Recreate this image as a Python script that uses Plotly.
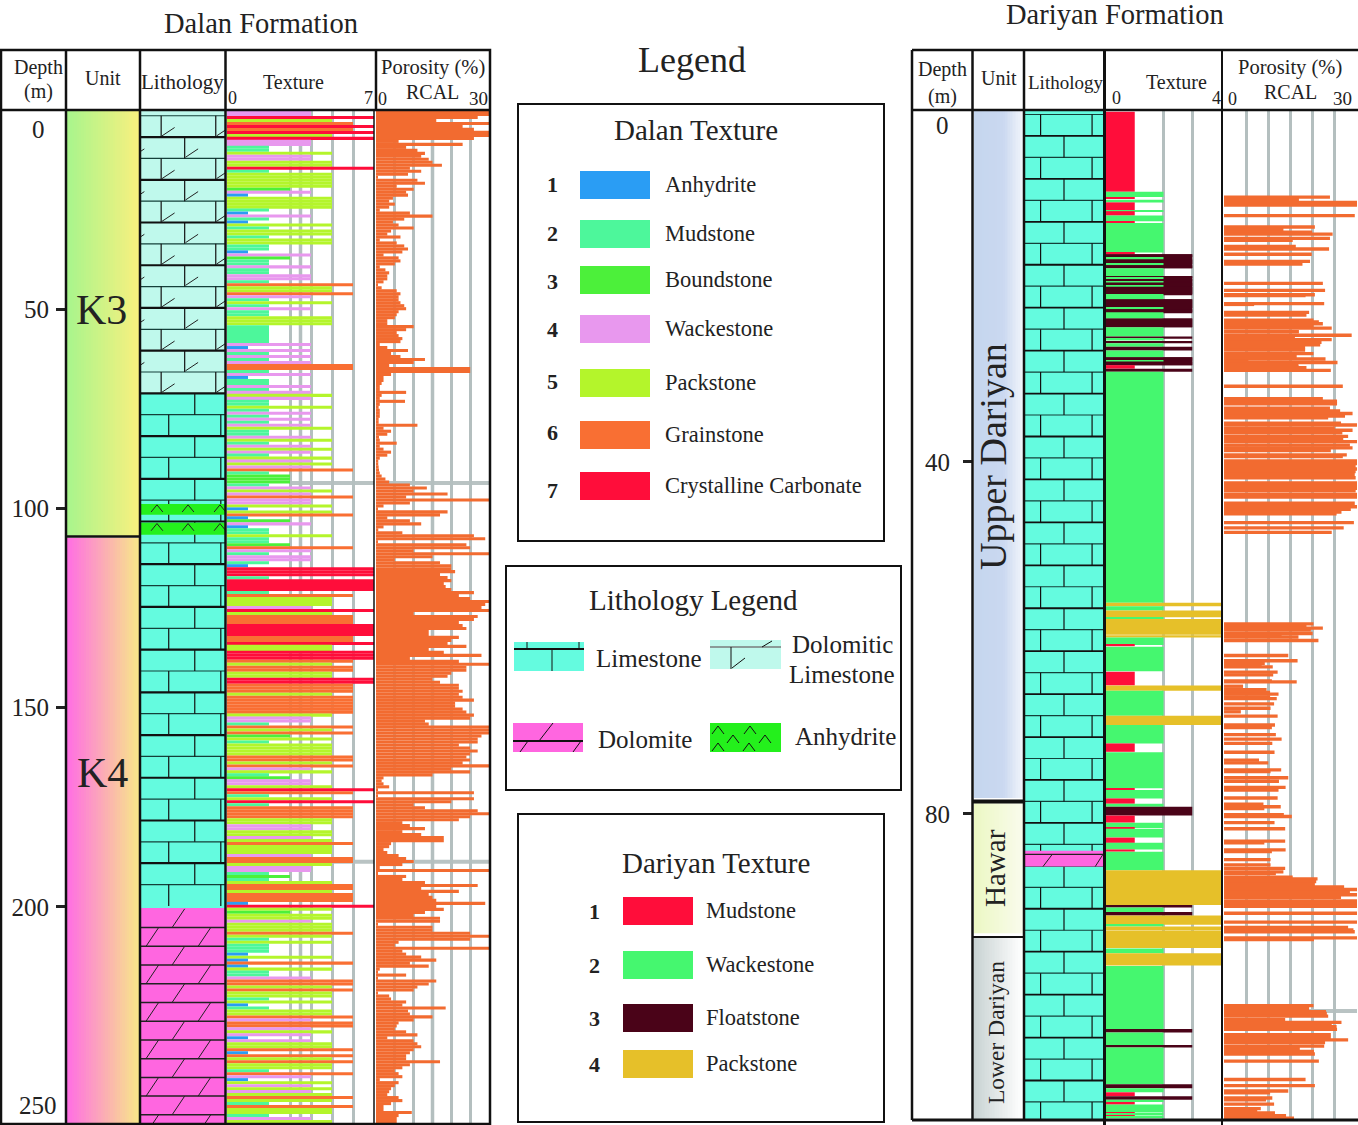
import plotly.graph_objects as go

W = 1358
H = 1125
SERIF = "Liberation Serif"

# Dalan logs, one reading every 0.75 m from the top of the section
dal_step = 0.75
dal_porosity = [
    30, 30, 27, 16, 30, 23, 26, 30, 30, 26, 6, 23, 8, 11, 13, 12, 14, 15, 17.5, 9,
    12, 8.5, 0.3, 11, 13, 5.5, 10, 8, 8.5, 4.5, 3.5, 5, 3.5, 1, 9, 15, 7.5, 4.5, 6, 10,
    4, 3, 6.5, 1, 5.5, 7.5, 8.5, 7, 2, 6, 6.5, 5, 1, 2.5, 3.5, 3, 3, 2, 0.5, 1.5,
    5.5, 6.5, 6, 6, 6.5, 7.5, 8, 6, 5.5, 5, 3, 3, 10, 8, 5.5, 6, 7, 6.5, 1, 3,
    8.5, 4, 6.5, 13, 10, 3.5, 25, 25, 4, 2, 2,
    1.5, 1, 1, 8, 1.5, 1, 7.7, 1, 0.7, 1, 1, 1, 0.7, 0.7, 11, 2, 4, 3, 0.8, 1,
    5.5, 1, 2, 4, 3, 1, 0.6, 0.6, 0.7, 0.8, 1, 1.5, 2.5, 3.5, 9, 13.5, 10, 19, 8, 30,
    9, 2, 0.3, 19, 17, 3, 9, 12, 2, 0.6, 7, 26, 29, 0.3, 24, 25, 10, 30, 15, 5,
    17, 20, 20, 21, 17, 19, 20, 18, 18.5, 20, 26, 22, 25, 30, 29, 28, 30, 10, 27, 26,
    22, 23, 24, 14, 14, 22, 20, 19, 24, 14, 18, 28, 9, 22, 30, 24, 24, 20, 19, 15,
    17, 22, 22, 23, 22, 23, 26, 21, 21, 23, 24, 26, 25, 13, 14, 30, 30, 30, 28, 27,
    27, 22, 25, 27, 25, 24,
    25, 23, 30, 20, 25, 15, 2, 1.5, 2, 3.5, 0.5, 26, 0.5, 26, 20, 10, 13, 27, 30, 25,
    22, 7, 9, 13, 7, 12, 18, 18, 4, 3.5, 2, 3, 6, 8, 10, 7, 1, 30, 0.3, 8,
    7, 13, 27, 12, 22, 14, 15, 16, 29, 16, 18, 13, 10, 17, 17, 0.3, 15, 15, 25, 30,
    25, 6, 5, 30, 7, 8, 12, 16, 9, 14, 1, 0.5, 8, 0.5, 16, 14, 11, 10, 0.3, 3.5,
    4, 8, 7, 18.5, 8.5, 9, 15, 10, 6, 5.5, 5, 8, 11, 3, 10, 11, 12, 10, 9, 8,
    8, 17, 9, 7, 5, 6, 7, 1, 6, 5, 4, 3.5, 3, 6, 7, 4, 2, 2, 9.5, 6,
    5.5, 5.5,
]
dal_texture = [
    4, 4, 7, 5, 6, 7, 6, 7, 5, 7, 4, 4, 2, 2, 5, 4, 4, 5, 5, 7,
    2, 5, 5, 5, 5, 5, 3, 4, 1, 5, 5, 5, 5, 2, 1, 4, 2, 1, 5, 2,
    5, 5, 2, 5, 5, 2, 2, 1, 4, 3, 2, 2, 4, 2, 2, 4, 4, 2, 6, 5,
    5, 6, 4, 2, 5, 2, 4, 2, 2, 5, 5, 5, 2, 2, 2, 2, 2, 2, 4, 1,
    4, 2, 4, 2, 4, 6, 6, 2, 4, 1, 2,
    2, 4, 2, 4, 5, 4, 2, 2, 5, 2, 4, 2, 4, 2, 4, 5, 2, 2, 4, 5,
    2, 4, 5, 4, 2, 5, 4, 5, 4, 6, 2, 3, 3, 3, 2, 4, 5, 4, 6, 4,
    4, 5, 1, 5, 6, 1, 3, 4, 1, 2, 2, 5, 2, 2, 3, 6, 4, 2, 4, 4,
    2, 1, 7, 7, 7, 2, 7, 7, 7, 7, 2, 6, 5, 5, 5, 4, 7, 5, 6, 6,
    6, 7, 7, 7, 7, 6, 6, 7, 5, 5, 7, 7, 7, 6, 5, 6, 6, 5, 5, 7,
    7, 6, 6, 6, 5, 6, 6, 6, 6, 6, 6, 5, 4, 4, 2, 6, 5, 6, 3, 5,
    2, 5, 5, 5, 5, 6,
    6, 5, 6, 4, 5, 2, 3, 4, 4, 5, 7, 6, 2, 5, 7, 2, 6, 6, 6, 6,
    5, 5, 4, 4, 5, 5, 4, 5, 6, 5, 5, 5, 4, 6, 6, 5, 4, 4, 2, 3,
    2, 5, 6, 6, 5, 6, 6, 6, 1, 7, 5, 3, 5, 5, 4, 5, 5, 5, 6, 5,
    2, 5, 2, 2, 2, 1, 5, 1, 6, 1, 5, 2, 2, 4, 6, 6, 5, 6, 5, 5,
    2, 5, 1, 2, 5, 5, 6, 4, 6, 6, 4, 5, 4, 1, 4, 5, 5, 6, 1, 6,
    5, 6, 5, 5, 2, 6, 4, 1, 5, 4, 5, 4, 5, 6, 5, 2, 6, 5, 5, 2,
    4, 5,
]
dal_texture_names = ["Anhydrite", "Mudstone", "Boundstone", "Wackestone",
                     "Packstone", "Grainstone", "Crystalline Carbonate"]
dal_texture_colors = ["#2a9df4", "#4df79b", "#4cf03a", "#e898ee",
                      "#b4f52b", "#f96f33", "#ff0d3a"]

# Dariyan porosity samples (depth m, porosity %)
dar_por_depth = [
    9.9, 10.2, 10.5, 10.8, 12.0, 13.3, 13.6, 13.9, 14.1, 14.6, 14.8, 15.5, 15.8, 16.4, 17.2, 17.5,
    19.7, 20.5, 21.0, 21.1, 22.0, 22.1, 23.0, 23.3, 23.9, 24.1, 24.3, 24.5, 24.8, 25.2, 25.6, 25.8,
    26.1, 26.4, 26.7, 27.0, 27.3, 27.7, 28.0, 28.3, 28.5, 28.7, 28.9, 29.2, 29.3, 29.6,
    31.4, 32.8, 33.1, 33.4, 33.9, 34.2, 34.5, 34.8, 35.0, 35.6, 35.8, 36.2, 36.4, 36.7, 37.1, 37.4,
    37.7, 38.1, 38.4, 38.7, 39.2, 39.4, 39.9, 40.2, 40.5, 40.8, 41.1, 41.4, 41.8, 42.4, 42.7, 43.0,
    43.3, 43.7, 44.0, 44.7, 45.1, 45.4, 45.7, 45.9, 46.9, 47.5, 48.0,
    58.4, 58.6, 58.9, 59.1, 59.5, 59.7, 59.9, 60.3, 62.0, 62.6, 62.9, 63.2, 63.3, 63.9, 64.2, 64.9,
    65.0, 65.5, 65.9, 66.2, 66.4, 66.7, 66.9, 67.5, 68.0, 68.4, 68.9, 69.9, 70.2, 71.0, 71.5, 72.0,
    73.0, 73.9, 74.2, 75.0, 75.2, 75.9, 76.3, 77.0, 77.3, 78.2, 78.9, 79.2, 79.4, 80.1, 80.3, 81.0,
    81.7, 83.1, 83.3, 84.1, 84.3, 85.2, 85.8, 86.2, 86.6, 86.8, 87.2, 87.4, 87.7, 88.0, 88.3, 88.6,
    88.9, 89.2, 89.5, 89.9, 90.2, 90.5, 91.3, 92.3, 92.9, 93.2, 93.4, 94.1, 94.3,
    101.8, 102.1, 102.5, 102.7, 103.0, 103.4, 103.7, 104.0, 104.2, 104.5, 105.1, 105.4, 105.7, 106.0,
    106.4, 106.7, 107.0, 107.3, 108.1, 110.2, 110.9, 111.5, 111.7, 112.3, 112.5, 113.0, 113.5, 113.8,
    114.0, 114.3, 114.6,
]
dar_porosity = [
    23.9, 16.9, 30, 30, 29.5, 20.5, 13.4, 19.9, 24.5, 23.9, 15.5, 16.2, 23.7, 19.8, 19.4, 17.7,
    22.3, 22.8, 20.5, 18.4, 22.6, 6.8, 19.2, 18.6, 20.2, 21.4, 22.3, 20.2, 24.3, 16.9, 28.8, 16,
    24.3, 22, 21.7, 18.3, 18.3, 20.2, 16.4, 22.9, 5.5, 25.6, 16.8, 16.8, 18.6, 24.1,
    26.8, 22.3, 25.5, 25.5, 23.9, 26.2, 29, 27.3, 23.5, 26.4, 30, 25, 29, 26.7, 28, 26.9,
    30, 28.4, 29, 24.1, 27.7, 26.8, 30, 30, 29.7, 30, 29.7, 29.5, 29.7, 30, 30, 30,
    29.7, 30, 30, 29.5, 30, 28.6, 26.5, 25.4, 29.3, 27, 24.3,
    20.2, 18.6, 22.3, 19.6, 20, 13, 16.8, 21.3, 14.5, 16.6, 9.2, 8.5, 11, 12.1, 11.1, 10.8,
    16.4, 4.3, 9.6, 10.4, 12.3, 10.4, 11.9, 11.3, 10.5, 3.8, 12.1, 11.5, 10.8, 11.7, 13, 10.9,
    11.4, 7.9, 10, 12.9, 10.5, 14.5, 12.4, 13.9, 12.3, 12.1, 8.9, 12.8, 9.1, 13.5, 15.3, 11.4,
    13.8, 13.8, 9.1, 13.9, 10.8, 10.5, 10.5, 13.8, 13.4, 11.7, 15.5, 21.1, 20.8, 20.5, 27.1, 30,
    28.4, 30, 26.4, 30, 30, 30, 30, 30, 28, 29.2, 29.5, 30, 20.3,
    20.2, 19.2, 23, 23.2, 23.5, 13.8, 26.5, 24.3, 25.4, 25.5, 24.1, 24.1, 28, 22.8,
    22.6, 17.1, 20.3, 20.5, 21.4, 18.4, 20.5, 14.5, 10.4, 10.9, 9.5, 11.3, 8.3, 7.5,
    11.5, 14, 15.8,
]

# Dariyan texture beds, first five are the floatstone blocks the thin wackestone stripes sit on
dar_tex_top = [
    16.4, 18.9, 21.5, 23.7, 28.1,
    0.2, 9.3, 9.9, 10.2, 10.5, 11.4, 11.5, 12.0, 12.65, 12.85, 16.2, 16.4, 16.8, 17.0, 17.5, 17.65,
    18.0, 18.9, 19.05, 19.2, 19.5, 19.6, 20.0, 20.1, 20.9, 21.5, 22.5, 22.65, 23.0, 23.7, 24.7, 25.75,
    26.0, 26.25, 26.5, 26.9, 27.35, 28.1, 28.5, 28.6, 29.0, 29.4, 29.75,
    56.0, 56.4, 56.9, 57.65, 57.85, 59.7, 59.95, 60.8, 61.0, 63.85, 65.4, 66.0, 68.85, 69.9, 72.0,
    73.0, 77.1, 77.3, 78.25, 78.85, 79.2, 80.2, 81.0, 81.6, 81.7, 82.7, 83.3, 84.05, 84.3, 86.4,
    90.35, 90.65, 91.15, 91.55, 92.6, 92.8, 93.3, 95.3, 95.85, 97.3, 104.45, 104.85, 106.35, 106.55,
    110.75, 111.2, 111.65, 112.1, 112.5, 112.75, 113.05, 113.95, 114.1, 114.3, 114.4,
]
dar_tex_base = [
    18.0, 21.05, 23.1, 24.7, 29.0,
    9.3, 9.9, 10.1, 10.5, 11.4, 11.5, 12.0, 12.65, 12.85, 16.2, 16.4, 16.7, 17.0, 17.5, 17.65, 18.0,
    18.9, 19.05, 19.2, 19.5, 19.6, 20.0, 20.1, 20.9, 21.5, 22.5, 22.65, 23.0, 23.7, 24.7, 25.75, 26.0,
    26.2, 26.5, 26.9, 27.35, 28.1, 28.5, 28.6, 29.0, 29.4, 29.75, 56.0,
    56.4, 56.9, 57.65, 57.85, 59.65, 59.95, 60.8, 60.95, 63.8, 65.4, 66.0, 68.85, 69.9, 72.0, 72.95,
    77.1, 77.3, 78.25, 78.85, 79.2, 80.2, 81.0, 81.6, 81.7, 82.7, 83.3, 84.05, 84.3, 86.4, 90.35,
    90.65, 91.15, 91.55, 92.6, 92.8, 93.25, 95.25, 95.85, 97.25, 104.45, 104.85, 106.35, 106.55, 110.75,
    111.2, 111.65, 112.1, 112.5, 112.75, 113.05, 113.95, 114.1, 114.3, 114.4, 114.6,
]
dar_tex_value = [
    3, 3, 3, 3, 3,
    1, 2, 1, 2, 1, 2, 1, 2, 1, 2, 1, 3, 2, 3, 2, 3,
    2, 3, 2, 3, 2, 3, 2, 3, 2, 3, 2, 3, 2, 3, 2, 3,
    2, 3, 2, 3, 2, 3, 2, 3, 1, 3, 2,
    4, 2, 4, 2, 4, 4, 2, 1, 2, 1, 4, 2, 4, 2, 1,
    2, 1, 2, 1, 2, 3, 1, 2, 1, 2, 1, 2, 1, 2, 4,
    3, 2, 3, 4, 2, 4, 4, 2, 4, 2, 3, 2, 3, 2,
    3, 2, 1, 3, 2, 1, 2, 1, 2, 1, 2,
]
dar_texture_names = ["Mudstone", "Wackestone", "Floatstone", "Packstone"]
dar_texture_colors = ["#ff0d3a", "#45f76f", "#4a0318", "#e6c029"]

# lithology and units, tops and bases in metres
LIME = "#64fbdf"
DOLO_LIME = "#bff9ec"
DOLOMITE = "#ff66e0"
ANHYD = "#24f01c"
dal_lith_top = [0, 71, 200.3]
dal_lith_base = [71, 200.3, 254.5]
dal_lith_color = [DOLO_LIME, LIME, DOLOMITE]
dal_anhyd_top = [98.9, 103.6]
dal_anhyd_base = [101.6, 106.6]
dar_dolomite_top = 84.2
dar_dolomite_base = 86.0

DAL_MAX = 254.5
DAR_MAX = 114.8


def fx(px):
    return px / W


def fy(py):
    return 1 - py / H


fig = go.Figure()
layout_axes = {}


def add_axes(n, x0, x1, ytop, ybot, xrange, ymax, tickvals=None):
    name = "" if n == 1 else str(n)
    layout_axes["xaxis" + name] = dict(
        domain=[fx(x0), fx(x1)], range=xrange, anchor="y" + name, fixedrange=True,
        showline=False, zeroline=False, ticks="", showticklabels=False,
        showgrid=tickvals is not None, tickmode="array", tickvals=tickvals or [],
        gridcolor="#b4bfbf", gridwidth=2.5,
    )
    layout_axes["yaxis" + name] = dict(
        domain=[fy(ybot), fy(ytop)], range=[ymax, 0], anchor="x" + name, fixedrange=True,
        showline=False, zeroline=False, showgrid=False, ticks="", showticklabels=False,
    )


# dalan: 1 unit, 2 lithology, 3 texture, 4 porosity. dariyan: 5, 6, 7, 8
add_axes(1, 67, 139, 110, 1124, [0, 1], DAL_MAX)
add_axes(2, 141, 225, 110, 1124, [0, 1], DAL_MAX)
add_axes(3, 227, 374, 110, 1124, [0, 7], DAL_MAX, [3, 3.5, 4, 5, 6])
add_axes(4, 376, 489, 110, 1124, [0, 30], DAL_MAX, [0, 5, 10, 15, 20, 25])
add_axes(5, 974, 1023, 110, 1120, [0, 1], DAR_MAX)
add_axes(6, 1025, 1103, 110, 1120, [0, 1], DAR_MAX)
add_axes(7, 1106, 1221, 110, 1120, [0, 4], DAR_MAX, [2, 3])
add_axes(8, 1224, 1357, 110, 1120, [0, 30], DAR_MAX, [0, 5, 10, 15, 20, 25])
# bars always sit under lines in one subplot, so the bands that cover the bricks get overlay axes
add_axes(9, 141, 225, 110, 1124, [0, 1], DAL_MAX)
add_axes(10, 1025, 1103, 110, 1120, [0, 1], DAR_MAX)
layout_axes["xaxis9"]["overlaying"] = "x2"
layout_axes["yaxis9"]["overlaying"] = "y2"
layout_axes["xaxis10"]["overlaying"] = "x6"
layout_axes["yaxis10"]["overlaying"] = "y6"

# depth ticks come off the unit columns
for key, vals, off in (("yaxis", [50, 100, 150, 200], 2), ("yaxis5", [40, 80], 8)):
    layout_axes[key].update(
        tickmode="array", tickvals=vals, ticktext=[str(v) for v in vals],
        showticklabels=True, ticks="outside", ticklen=10, tickwidth=2.5, tickcolor="#222",
        ticklabelstandoff=off, tickfont=dict(family=SERIF, size=25, color="#222"),
    )


def gradient(n, top, base, colors):
    steps = 30
    edges = [i / steps for i in range(steps + 1)]
    fig.add_trace(go.Heatmap(
        x=edges, y=[top, base], z=[list(range(steps))], colorscale=colors, showscale=False,
        hoverinfo="skip", xaxis="x" + n, yaxis="y" + n,
    ))


gradient("", 0, 107, [[0, "#a9f58c"], [1, "#f7f07f"]])
gradient("", 107.4, DAL_MAX, [[0, "#ff70e2"], [1, "#f8e68a"]])
gradient("5", 0, 78.2, [[0, "#c5d6ee"], [0.6, "#cad8f0"], [1, "#f0f4fb"]])
gradient("5", 78.8, 93.6, [[0, "#ecf8c4"], [1, "#f9fbec"]])
gradient("5", 93.9, DAR_MAX, [[0, "#c9d3d3"], [1, "#ffffff"]])


def lines(n, xs, ys, color="#111", width=1.2):
    fig.add_trace(go.Scatter(
        x=xs, y=ys, mode="lines", line=dict(color=color, width=width), hoverinfo="skip",
        connectgaps=False, xaxis="x" + n, yaxis="y" + n,
    ))


def block(n, tops, bases, colors):
    fig.add_trace(go.Bar(
        x=[0.5] * len(tops), y=[b - t for t, b in zip(tops, bases)], base=tops, width=1,
        marker=dict(color=colors, line=dict(width=0)), hoverinfo="skip",
        xaxis="x" + n, yaxis="y" + n,
    ))


def bricks(n, start, step, kmin, kmax, even_v, odd_v, heavy=2.2):
    thick_x, thick_y, thin_x, thin_y, vx, vy = [], [], [], [], [], []
    for k in range(kmin, kmax):
        top = start + k * step
        base = top + step
        if k % 2 == 0:
            thick_x += [0, 1, None]
            thick_y += [top, top, None]
        else:
            thin_x += [0, 1, None]
            thin_y += [top, top, None]
        for v in (even_v if k % 2 == 0 else odd_v):
            vx += [v, v, None]
            vy += [top, base, None]
    lines(n, thin_x, thin_y, "#14403a", 1.2)
    lines(n, thick_x, thick_y, "#111", heavy)
    lines(n, vx, vy, "#111", 1.2)


def dolomite_rows(n, start, step, kmax):
    hx, hy, sx, sy = [], [], [], []
    for k in range(kmax):
        top = start + k * step
        base = top + step
        hx += [0, 1, None]
        hy += [base, base, None]
        for v in ([0.37] if k % 2 == 0 else [0.06, 0.68]):
            sx += [v, v + 0.15, None]
            sy += [base, top, None]
    lines(n, hx, hy, "#222", 1.5)
    lines(n, sx, sy, "#222", 1)


# dalan lithology column
block("2", dal_lith_top, dal_lith_base, dal_lith_color)
bricks("2", 6.8, 5.36, -1, 12, [0.52], [0.24, 0.89])
bricks("2", 6.8, 5.36, 12, 36, [0.64], [0.33, 0.95])
slash_x, slash_y = [], []
for k in range(-1, 12):
    bottom = 6.8 + (k + 1) * 5.36
    for v in ([-0.11, 0.53] if k % 2 == 0 else [0.25, 0.9]):
        slash_x += [v, v + 0.15, None]
        slash_y += [bottom - 0.3, bottom - 2.4, None]
lines("2", slash_x, slash_y, "#222", 1)
dolomite_rows("2", 200.5, 4.7, 12)
block("9", dal_anhyd_top, dal_anhyd_base, [ANHYD, ANHYD])
caret_x, caret_y = [], []
for top in dal_anhyd_top:
    for v in (0.12, 0.49, 0.87):
        caret_x += [v, v + 0.07, v + 0.14, None]
        caret_y += [top + 2, top + 0.2, top + 2, None]
lines("9", caret_x, caret_y, "#222", 1)

# dariyan lithology column
block("6", [0], [DAR_MAX], [LIME])
bricks("6", 2.95, 2.44, -1, 46, [0.5], [0.2, 0.86], heavy=1.8)
block("10", [dar_dolomite_top], [dar_dolomite_base], [DOLOMITE])
lines("10", [0, 1], [84.6, 84.6], "#222", 1.2)
lines("10", [0.23, 0.35, None, 0.9, 1.0], [86, 84.6, None, 86, 84.6], "#222", 1)

# logs
dal_depth = [dal_step * i + dal_step / 2 for i in range(len(dal_porosity))]
fig.add_trace(go.Bar(
    y=dal_depth, x=dal_texture[:len(dal_depth)], orientation="h", width=0.76,
    marker=dict(color=[dal_texture_colors[v - 1] for v in dal_texture], line=dict(width=0)),
    xaxis="x3", yaxis="y3",
))
fig.add_trace(go.Bar(
    y=dal_depth, x=dal_porosity, orientation="h", width=0.78,
    marker=dict(color="#f26b30", line=dict(width=0)), xaxis="x4", yaxis="y4",
))
fig.add_trace(go.Bar(
    y=[(t + b) / 2 for t, b in zip(dar_tex_top, dar_tex_base)], x=dar_tex_value,
    width=[b - t for t, b in zip(dar_tex_top, dar_tex_base)], orientation="h",
    marker=dict(color=[dar_texture_colors[v - 1] for v in dar_tex_value], line=dict(width=0)),
    xaxis="x7", yaxis="y7",
))
fig.add_trace(go.Bar(
    y=dar_por_depth, x=dar_porosity, orientation="h", width=0.38,
    marker=dict(color="#f26b30", line=dict(width=0)), xaxis="x8", yaxis="y8",
))

shapes = []
notes = []


def seg(x0, y0, x1, y1, width=2.5, color="#111"):
    shapes.append(dict(type="line", xref="paper", yref="paper", x0=fx(x0), y0=fy(y0),
                       x1=fx(x1), y1=fy(y1), line=dict(color=color, width=width)))


def rect(x0, y0, x1, y1, fill=None, width=0, color="#111"):
    shapes.append(dict(type="rect", xref="paper", yref="paper", x0=fx(x0), y0=fy(y0),
                       x1=fx(x1), y1=fy(y1), fillcolor=fill or "rgba(0,0,0,0)",
                       line=dict(color=color, width=width)))


def txt(x, y, text, size, anchor="center", angle=0, bold=False):
    notes.append(dict(xref="paper", yref="paper", x=fx(x), y=fy(y), text=f"<b>{text}</b>" if bold else text,
                      showarrow=False, xanchor=anchor, yanchor="middle", textangle=angle,
                      font=dict(family=SERIF, size=size, color="#222")))


# gray horizontal marks in the logs, plus the heavier verticals
for xr, yr, x0, x1, d in (("x3", "y3", 3, 7, 93.6), ("x4", "y4", 0, 30, 93.6),
                          ("x3", "y3", 5, 7, 188.7), ("x4", "y4", 0, 30, 188.7),
                          ("x8", "y8", 15, 30, 102.4)):
    shapes.append(dict(type="line", xref=xr, yref=yr, x0=x0, x1=x1, y0=d, y1=d, layer="below",
                       line=dict(color="#b9c3c3", width=4)))
for xr, yr, v, ymax in (("x3", "y3", 3.5, DAL_MAX), ("x4", "y4", 15, DAL_MAX)):
    shapes.append(dict(type="line", xref=xr, yref=yr, x0=v, x1=v, y0=0, y1=ymax, layer="below",
                       line=dict(color="#b4bfbf", width=3.5)))

# dalan frame
rect(1, 50, 490, 1124, width=2.5)
seg(1, 110, 490, 110)
seg(66, 50, 66, 1124)
seg(140, 50, 140, 1124)
seg(225.5, 50, 225.5, 1124)
seg(376, 50, 376, 110)
seg(374, 110, 374, 1124, 1.5)
seg(67, 536.5, 140, 536.5)
# dariyan frame
seg(912, 50, 1358, 50)
seg(912, 110, 1358, 110)
seg(912, 50, 912, 1120)
seg(912, 1120, 1358, 1120, 3)
seg(972.5, 50, 972.5, 1120)
seg(1024, 50, 1024, 1120)
seg(1104.5, 50, 1104.5, 1125, 3)
seg(1222, 50, 1222, 1125, 2)
seg(973, 801.5, 1024, 801.5, 4)
seg(973, 937, 1024, 937, 2)

txt(261, 24, "Dalan Formation", 28.5)
txt(1115, 15, "Dariyan Formation", 28.5)
txt(692, 60, "Legend", 36)

txt(38, 67, "Depth", 20)
txt(38, 92, "(m)", 20)
txt(103, 78, "Unit", 20)
txt(182, 82, "Lithology", 21)
txt(293, 82, "Texture", 20)
txt(232, 98, "0", 18)
txt(369, 98, "7", 18)
txt(433, 68, "Porosity (%)", 20.5)
txt(433, 92, "RCAL", 20)
txt(382, 99, "0", 18)
txt(478, 98, "30", 19)
txt(38, 130, "0", 25)
txt(38, 1105, "250", 25)
txt(101, 310, "K3", 42)
txt(102, 773, "K4", 42)

txt(942, 70, "Depth", 20)
txt(942, 96, "(m)", 20)
txt(999, 78, "Unit", 20)
txt(1065, 83, "Lithology", 19)
txt(1176, 82, "Texture", 20)
txt(1116, 98, "0", 18)
txt(1216, 98, "4", 18)
txt(1290, 68, "Porosity (%)", 20.5)
txt(1290, 92, "RCAL", 20)
txt(1232, 99, "0", 18)
txt(1342, 99, "30", 19)
txt(942, 126, "0", 25)
txt(993, 456, "Upper Dariyan", 38, angle=-90)
txt(995, 868, "Hawar", 29, angle=-90)
txt(996, 1032, "Lower Dariyan", 23.5, angle=-90)

# dalan texture legend
rect(518, 104, 884, 541, width=2)
txt(696, 130, "Dalan Texture", 29)
dal_leg_y = [185, 234, 280, 329, 383, 435, 486]
dal_leg_num = [185, 233, 281, 329, 381, 432, 491]
for i, name in enumerate(dal_texture_names):
    rect(580, dal_leg_y[i] - 14, 650, dal_leg_y[i] + 14, fill=dal_texture_colors[i])
    txt(552, dal_leg_num[i], str(i + 1), 22, bold=True)
    txt(663, dal_leg_y[i] - 1, name, 22.5, anchor="left")

# lithology legend
rect(506, 566, 901, 790, width=2)
txt(693, 600, "Lithology Legend", 29)
rect(514, 642, 584, 671, fill=LIME)
seg(514, 649, 584, 649, 2)
for a, b, c in ((552, 649, 671), (527, 642, 649), (579, 642, 649)):
    seg(a, b, a, c, 1)
rect(710, 640, 781, 669, fill=DOLO_LIME)
seg(710, 647, 781, 647, 2, "#8a9c98")
seg(731, 647, 731, 669, 1)
seg(732, 668, 745, 658, 1)
seg(762, 647, 772, 641, 1)
rect(513, 723, 583, 752, fill=DOLOMITE)
seg(513, 741, 583, 741, 2)
seg(539, 741, 553, 723, 1)
seg(520, 752, 528, 741, 1)
seg(573, 752, 581, 741, 1)
rect(710, 723, 781, 752, fill=ANHYD)
for cx, cy in ((718, 729), (750, 729), (733, 738), (765, 738), (718, 746), (749, 746)):
    seg(cx - 6, cy + 5, cx, cy - 3, 1)
    seg(cx, cy - 3, cx + 6, cy + 5, 1)
txt(594, 658, "Limestone", 25, anchor="left")
txt(842, 644, "Dolomitic", 25)
txt(842, 674, "Limestone", 25)
txt(596, 739, "Dolomite", 25, anchor="left")
txt(793, 736, "Anhydrite", 25, anchor="left")

# dariyan texture legend
rect(518, 814, 884, 1122, width=2)
txt(716, 863, "Dariyan Texture", 29)
dar_leg_y = [911, 965, 1018, 1064]
for i, name in enumerate(dar_texture_names):
    rect(623, dar_leg_y[i] - 14, 693, dar_leg_y[i] + 14, fill=dar_texture_colors[i])
    txt(594, dar_leg_y[i], str(i + 1), 22, bold=True)
    txt(704, dar_leg_y[i] - 1, name, 22.5, anchor="left")

fig.update_layout(
    width=W, height=H, margin=dict(l=0, r=0, t=0, b=0), autosize=False,
    paper_bgcolor="white", plot_bgcolor="white", showlegend=False, barmode="overlay",
    shapes=shapes, annotations=notes, **layout_axes,
)
fig.write_html("out.html", config={"displayModeBar": False},
               post_script="document.body.style.margin='0';")
